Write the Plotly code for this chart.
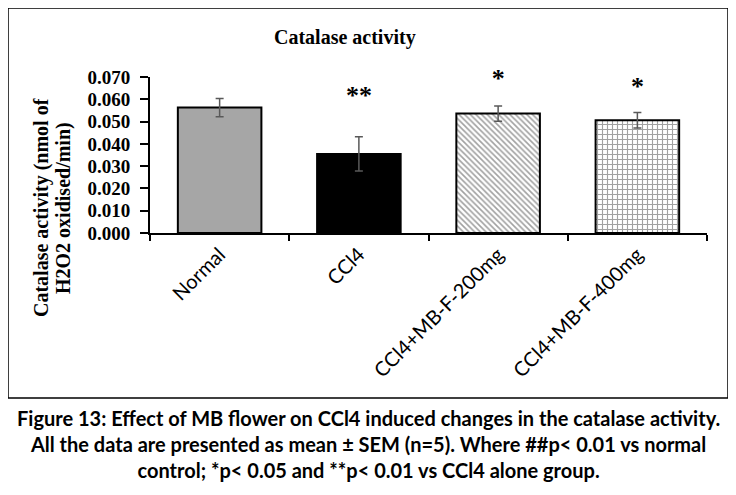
import plotly.graph_objects as go

categories = ["Normal", "CCl4", "CCl4+MB-F-200mg", "CCl4+MB-F-400mg"]
means = [0.0563, 0.0355, 0.0536, 0.0506]
sems = [0.0041, 0.0077, 0.0034, 0.0035]
stars = ["", "**", "*", "*"]
star_levels = [None, 0.0607, 0.0683, 0.0648]
yticks = [0.0, 0.01, 0.02, 0.03, 0.04, 0.05, 0.06, 0.07]
ytitle_lines = ["Catalase activity (nmol of", "H2O2 oxidised/min)"]

fills = ["#a6a6a6", "#000000", "#ffffff", "#ffffff"]
pshapes = ["", "", "\\", "+"]
psizes = [5, 5, 4, 5]

L, T, W, H = 142, 69, 557, 156  # plot area in figure px


def px(xf):
    return (xf - L) / W


def py(yf):
    return (T + H - yf) / H


fig = go.Figure()
fig.add_trace(go.Bar(
    x=categories, y=means,
    width=0.6,
    marker=dict(
        color=fills,
        line=dict(color="black", width=2),
        pattern=dict(shape=pshapes, fgcolor="#808080", bgcolor="#ffffff", size=psizes, solidity=0.4),
    ),
    error_y=dict(type="data", array=sems, visible=True, color="#595959", thickness=1.5, width=4),
    showlegend=False,
))
fig.add_trace(go.Scatter(
    x=categories[1:], y=star_levels[1:], mode="text", text=stars[1:],
    textfont=dict(family="Liberation Serif", size=26, color="black", weight="bold"),
    textposition="middle center", showlegend=False, hoverinfo="skip", cliponaxis=False,
))

annotations = [
    dict(text="<b>Catalase activity</b>", xref="paper", yref="paper",
         x=px(337), y=py(29), xanchor="center", yanchor="middle", showarrow=False,
         font=dict(family="Liberation Serif", size=20, color="black")),
    dict(text="<b>Figure 13: Effect of MB flower on CCl4 induced changes in the catalase activity.<br>"
              "All the data are presented as mean ± SEM (n=5). Where ##p&lt; 0.01 vs normal<br>"
              "control; *p&lt; 0.05 and **p&lt; 0.01 vs CCl4 alone group.</b>",
         xref="paper", yref="paper", x=px(360), y=py(436),
         xanchor="center", yanchor="middle",
         showarrow=False, align="center",
         font=dict(family="Lato", size=20, color="black")),
]
for xf, line in zip([33, 55], ytitle_lines):
    annotations.append(dict(
        text="<b>" + line + "</b>", xref="paper", yref="paper",
        x=px(xf), y=py(200), xanchor="center", yanchor="middle", textangle=-90,
        showarrow=False, font=dict(family="Liberation Serif", size=20, color="black")))

fig.update_layout(
    width=736, height=495,
    margin=dict(l=L, r=736 - L - W, t=T, b=495 - T - H),
    paper_bgcolor="white", plot_bgcolor="white",
    xaxis=dict(
        showline=True, linecolor="black", linewidth=2,
        ticks="outside", tickson="boundaries", ticklen=6, tickwidth=1.5, tickcolor="black",
        tickangle=-45,
        tickfont=dict(family="Lato", size=20, color="black"),
        showgrid=False,
    ),
    yaxis=dict(
        range=[0, 0.07],
        tickvals=yticks,
        tickformat=".3f",
        showline=True, linecolor="black", linewidth=2,
        ticks="outside", ticklen=8, tickwidth=1.5, tickcolor="black",
        ticklabelstandoff=6,
        tickfont=dict(family="Liberation Serif", size=19, color="black", weight="bold"),
        showgrid=False, zeroline=False,
    ),
    font=dict(family="Liberation Serif"),
    shapes=[dict(type="rect", xref="paper", yref="paper",
                 x0=px(0), x1=px(720), y0=py(390), y1=py(0),
                 line=dict(color="black", width=1.5))],
    annotations=annotations,
)

fig.write_html("out.html")
